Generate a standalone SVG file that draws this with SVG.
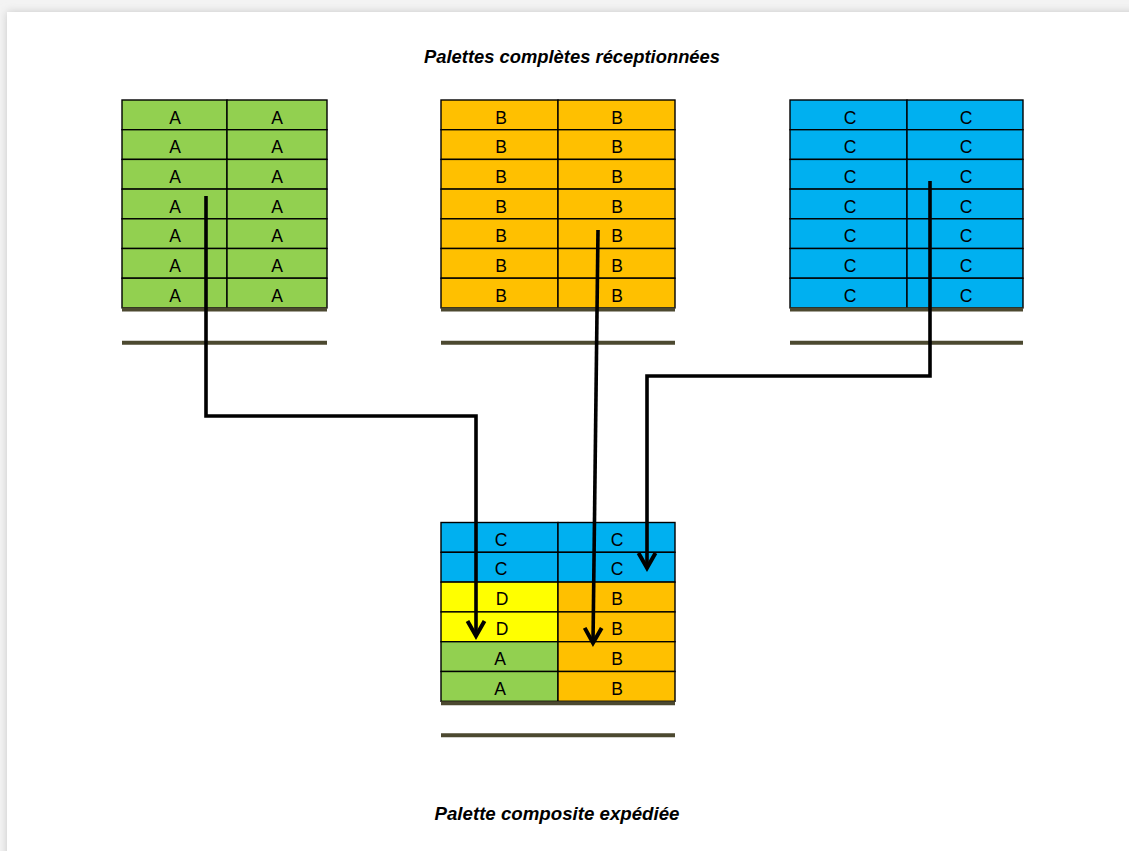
<svg xmlns="http://www.w3.org/2000/svg" width="1129" height="851" viewBox="0 0 1129 851">
  <style>
    .cell { stroke: #000; stroke-width: 1.4; }
    .g { fill: #92d050; }
    .o { fill: #ffc000; }
    .b { fill: #00b0f0; }
    .y { fill: #ffff00; }
    .lbl { font-family: "Liberation Sans", "Open Sans", sans-serif; font-size: 17.5px; fill: #000; text-anchor: middle; }
    .base { stroke: #4c4930; stroke-width: 4; }
    .title { font-family: "Liberation Sans", "Open Sans", sans-serif; font-size: 17.5px; font-weight: bold; font-style: italic; fill: #000; text-anchor: middle; }
    .flow { fill: none; stroke: #000; stroke-width: 3.6; stroke-linejoin: miter; marker-end: url(#head); }
  </style>
  <defs>
    <filter id="pageShadow" x="-5%" y="-5%" width="110%" height="110%">
      <feGaussianBlur stdDeviation="4"/>
    </filter>
    <marker id="head" markerUnits="userSpaceOnUse" markerWidth="30" markerHeight="30" viewBox="-20 -15 30 30" refX="0" refY="0" orient="auto">
      <path d="M -15 -8.5 L 0 0 L -15 8.5" fill="none" stroke="#000" stroke-width="4" stroke-linejoin="miter"/>
    </marker>
  </defs>

  <!-- page background and sheet -->
  <rect x="0" y="0" width="1129" height="851" fill="#f3f3f3"/>
  <rect x="7" y="12" width="1140" height="860" fill="#c8c8c8" filter="url(#pageShadow)"/>
  <rect x="7" y="12" width="1140" height="860" fill="#ffffff"/>

  <text class="title" x="572" y="63" textLength="296" lengthAdjust="spacingAndGlyphs">Palettes complètes réceptionnées</text>

  <!-- Pallet A -->
  <g id="pallet-a">
    <g class="g cell">
      <rect x="122" y="100" width="105" height="29.7"/><rect x="227" y="100" width="100" height="29.7"/>
      <rect x="122" y="129.7" width="105" height="29.7"/><rect x="227" y="129.7" width="100" height="29.7"/>
      <rect x="122" y="159.4" width="105" height="29.7"/><rect x="227" y="159.4" width="100" height="29.7"/>
      <rect x="122" y="189.1" width="105" height="29.7"/><rect x="227" y="189.1" width="100" height="29.7"/>
      <rect x="122" y="218.8" width="105" height="29.7"/><rect x="227" y="218.8" width="100" height="29.7"/>
      <rect x="122" y="248.5" width="105" height="29.7"/><rect x="227" y="248.5" width="100" height="29.7"/>
      <rect x="122" y="278.2" width="105" height="29.7"/><rect x="227" y="278.2" width="100" height="29.7"/>
    </g>
    <g class="lbl">
      <text x="175" y="123.5">A</text><text x="277" y="123.5">A</text>
      <text x="175" y="153.2">A</text><text x="277" y="153.2">A</text>
      <text x="175" y="182.9">A</text><text x="277" y="182.9">A</text>
      <text x="175" y="212.6">A</text><text x="277" y="212.6">A</text>
      <text x="175" y="242.3">A</text><text x="277" y="242.3">A</text>
      <text x="175" y="272">A</text><text x="277" y="272">A</text>
      <text x="175" y="301.7">A</text><text x="277" y="301.7">A</text>
    </g>
    <line class="base" x1="122" y1="309.5" x2="327" y2="309.5"/>
    <line class="base" x1="122" y1="342.7" x2="327" y2="342.7"/>
  </g>

  <!-- Pallet B -->
  <g id="pallet-b">
    <g class="o cell">
      <rect x="441" y="100" width="117" height="29.7"/><rect x="558" y="100" width="117" height="29.7"/>
      <rect x="441" y="129.7" width="117" height="29.7"/><rect x="558" y="129.7" width="117" height="29.7"/>
      <rect x="441" y="159.4" width="117" height="29.7"/><rect x="558" y="159.4" width="117" height="29.7"/>
      <rect x="441" y="189.1" width="117" height="29.7"/><rect x="558" y="189.1" width="117" height="29.7"/>
      <rect x="441" y="218.8" width="117" height="29.7"/><rect x="558" y="218.8" width="117" height="29.7"/>
      <rect x="441" y="248.5" width="117" height="29.7"/><rect x="558" y="248.5" width="117" height="29.7"/>
      <rect x="441" y="278.2" width="117" height="29.7"/><rect x="558" y="278.2" width="117" height="29.7"/>
    </g>
    <g class="lbl">
      <text x="501" y="123.5">B</text><text x="617" y="123.5">B</text>
      <text x="501" y="153.2">B</text><text x="617" y="153.2">B</text>
      <text x="501" y="182.9">B</text><text x="617" y="182.9">B</text>
      <text x="501" y="212.6">B</text><text x="617" y="212.6">B</text>
      <text x="501" y="242.3">B</text><text x="617" y="242.3">B</text>
      <text x="501" y="272">B</text><text x="617" y="272">B</text>
      <text x="501" y="301.7">B</text><text x="617" y="301.7">B</text>
    </g>
    <line class="base" x1="441" y1="309.5" x2="675" y2="309.5"/>
    <line class="base" x1="441" y1="342.7" x2="675" y2="342.7"/>
  </g>

  <!-- Pallet C -->
  <g id="pallet-c">
    <g class="b cell">
      <rect x="790" y="100" width="117" height="29.7"/><rect x="907" y="100" width="116" height="29.7"/>
      <rect x="790" y="129.7" width="117" height="29.7"/><rect x="907" y="129.7" width="116" height="29.7"/>
      <rect x="790" y="159.4" width="117" height="29.7"/><rect x="907" y="159.4" width="116" height="29.7"/>
      <rect x="790" y="189.1" width="117" height="29.7"/><rect x="907" y="189.1" width="116" height="29.7"/>
      <rect x="790" y="218.8" width="117" height="29.7"/><rect x="907" y="218.8" width="116" height="29.7"/>
      <rect x="790" y="248.5" width="117" height="29.7"/><rect x="907" y="248.5" width="116" height="29.7"/>
      <rect x="790" y="278.2" width="117" height="29.7"/><rect x="907" y="278.2" width="116" height="29.7"/>
    </g>
    <g class="lbl">
      <text x="850" y="123.5">C</text><text x="966" y="123.5">C</text>
      <text x="850" y="153.2">C</text><text x="966" y="153.2">C</text>
      <text x="850" y="182.9">C</text><text x="966" y="182.9">C</text>
      <text x="850" y="212.6">C</text><text x="966" y="212.6">C</text>
      <text x="850" y="242.3">C</text><text x="966" y="242.3">C</text>
      <text x="850" y="272">C</text><text x="966" y="272">C</text>
      <text x="850" y="301.7">C</text><text x="966" y="301.7">C</text>
    </g>
    <line class="base" x1="790" y1="309.5" x2="1023" y2="309.5"/>
    <line class="base" x1="790" y1="342.7" x2="1023" y2="342.7"/>
  </g>

  <!-- Composite pallet -->
  <g id="pallet-composite">
    <g class="cell">
      <rect class="b" x="441" y="522.5" width="117" height="29.8"/><rect class="b" x="558" y="522.5" width="117" height="29.8"/>
      <rect class="b" x="441" y="552.3" width="117" height="29.8"/><rect class="b" x="558" y="552.3" width="117" height="29.8"/>
      <rect class="y" x="441" y="582.1" width="117" height="29.8"/><rect class="o" x="558" y="582.1" width="117" height="29.8"/>
      <rect class="y" x="441" y="611.9" width="117" height="29.8"/><rect class="o" x="558" y="611.9" width="117" height="29.8"/>
      <rect class="g" x="441" y="641.7" width="117" height="29.8"/><rect class="o" x="558" y="641.7" width="117" height="29.8"/>
      <rect class="g" x="441" y="671.5" width="117" height="29.8"/><rect class="o" x="558" y="671.5" width="117" height="29.8"/>
    </g>
    <g class="lbl">
      <text x="501" y="545.5">C</text><text x="617" y="545.5">C</text>
      <text x="501" y="575.3">C</text><text x="617" y="575.3">C</text>
      <text x="502" y="605.1">D</text><text x="617" y="605.1">B</text>
      <text x="502" y="634.9">D</text><text x="617" y="634.9">B</text>
      <text x="500" y="664.7">A</text><text x="617" y="664.7">B</text>
      <text x="500" y="694.5">A</text><text x="617" y="694.5">B</text>
    </g>
    <line class="base" x1="441" y1="703.3" x2="675" y2="703.3"/>
    <line class="base" x1="441" y1="735.3" x2="675" y2="735.3"/>
  </g>

  <text class="title" x="557" y="820" textLength="245" lengthAdjust="spacingAndGlyphs">Palette composite expédiée</text>

  <!-- Transfer connectors -->
  <g id="connectors">
    <path class="flow" d="M 206 196 L 206 416 L 476 416 L 476 636"/>
    <path class="flow" d="M 598 230 L 593 643"/>
    <path class="flow" d="M 930 181 L 930 376 L 647 376 L 647 568"/>
  </g>
</svg>
